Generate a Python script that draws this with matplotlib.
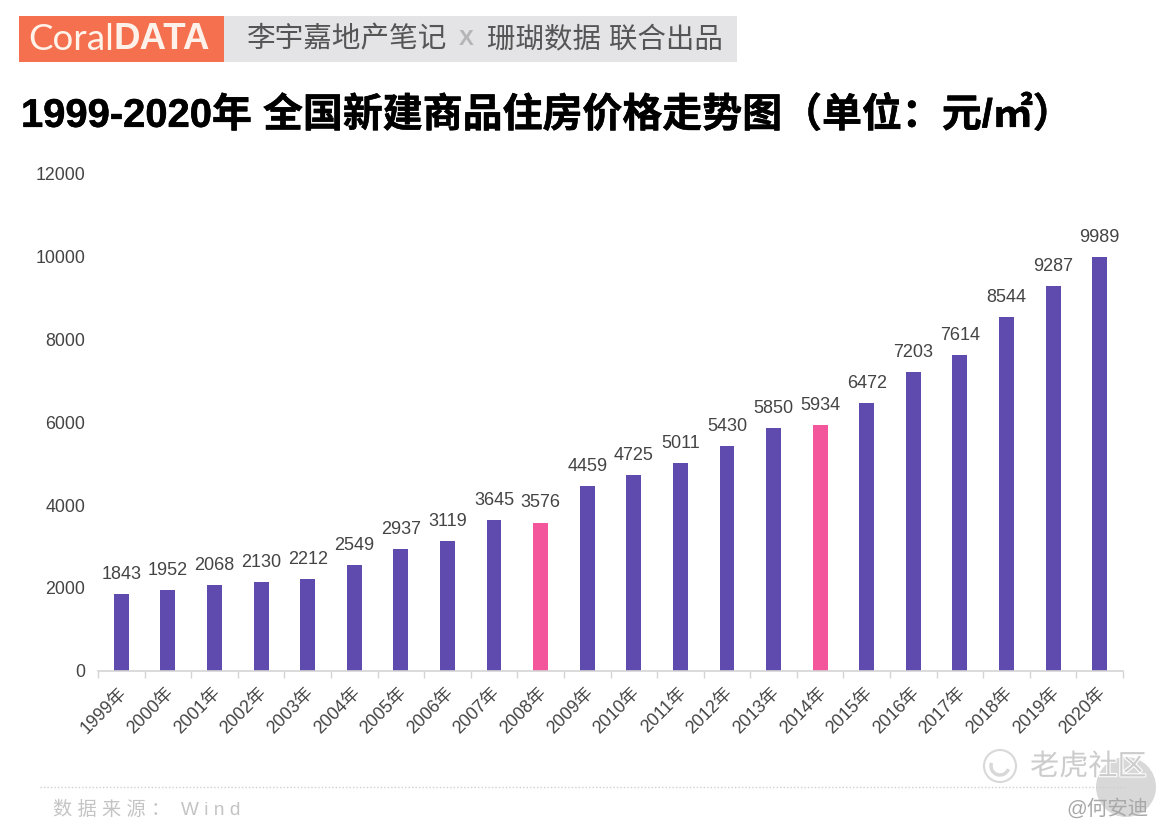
"""1999-2020 national new commercial housing price chart."""
import matplotlib
matplotlib.use("Agg")
import matplotlib.pyplot as plt
import matplotlib.patheffects as pe
from matplotlib.patches import Arc, Circle, Rectangle

plt.rcParams["font.family"] = ["Liberation Sans", "Noto Sans CJK SC", "DejaVu Sans"]

years = [f"{y}年" for y in range(1999, 2021)]
prices = [1843, 1952, 2068, 2130, 2212, 2549, 2937, 3119, 3645, 3576, 4459,
          4725, 5011, 5430, 5850, 5934, 6472, 7203, 7614, 8544, 9287, 9989]
highlight_years = ["2008年", "2014年"]
y_ticks = [0, 2000, 4000, 6000, 8000, 10000, 12000]

W, H = 1170, 834
PURPLE = "#5f4aad"
PINK = "#f4569b"
TEXT = "#444444"

fig = plt.figure(figsize=(W / 100, H / 100), dpi=100, facecolor="white")

# overlay in pixel coords for header, footer and watermark
bg = fig.add_axes([0, 0, 1, 1])
bg.set_xlim(0, W)
bg.set_ylim(H, 0)
bg.axis("off")

bg.add_patch(Rectangle((19, 16), 205, 46, color="#f4704f", lw=0))
bg.add_patch(Rectangle((224, 16), 513, 46, color="#e4e4e6", lw=0))
bg.text(28, 39.5, "Coral", color="#fff3ea", fontsize=26.5, va="center", family="Lato")
bg.text(114, 39.5, "DATA", color="#fdf1ea", fontsize=26.5, va="center", weight="bold")
bg.text(247, 39.5, "李宇嘉地产笔记", color="#555555", fontsize=20.6, va="center", weight="medium")
bg.text(459, 39.5, "X", color="#b5b5b5", fontsize=16, va="center", weight="bold")
bg.text(487, 39.5, "珊瑚数据 联合出品", color="#555555", fontsize=20.5, va="center", weight="medium")

title = bg.text(21, 115, "1999-2020年 全国新建商品住房价格走势图（单位：元/㎡）", color="black",
                fontsize=28.75, va="center", weight="bold")
title.set_path_effects([pe.withStroke(linewidth=0.4, foreground="black")])

bg.plot([40, 1125], [787, 787], color="#cfcfcf", lw=1, ls=(0, (1, 1.5)))
bg.text(53, 810, "数 据 来 源 ：  W i n d", color="#c4c4c4", fontsize=13.8, va="center")

# watermark
bg.add_patch(Circle((1126, 787), 30, color="#cfcfcf", alpha=0.8, lw=0))
bg.add_patch(Circle((1000, 766), 16, fill=False, ec="#d8d8d8", lw=1.5))
bg.add_patch(Arc((1000, 766), 18, 18, theta1=20, theta2=200, ec="#d8d8d8", lw=2.5))
mark = bg.text(1030, 767, "老虎社区", color="#cccccc", fontsize=21, va="center", weight="medium", zorder=5)
mark.set_path_effects([pe.withStroke(linewidth=1.5, foreground="white")])
bg.text(1066, 808, "@何安迪", color="#a8a8a8", fontsize=14.8, va="center", zorder=5)

# plot area: y=0 at pixel 670.5, 12000 at pixel 174, x axis 98..1123
left, right, top, bottom = 98, 1123, 174, 670.5
ax = fig.add_axes([left / W, 1 - bottom / H, (right - left) / W, (bottom - top) / H])
ax.patch.set_alpha(0)

positions = range(len(years))
colors = [PINK if y in highlight_years else PURPLE for y in years]
ax.bar(positions, prices, width=0.32, color=colors)
for i, v in zip(positions, prices):
    ax.annotate(str(v), (i, v), xytext=(0, 8), textcoords="offset points",
                ha="center", va="bottom", fontsize=13, color=TEXT)

ax.set_xlim(-0.5, len(years) - 0.5)
ax.set_ylim(0, 12000)
ax.set_yticks(y_ticks)
ax.tick_params(axis="y", length=0, pad=9, labelsize=12.8, labelcolor=TEXT)

ax.set_xticks([p - 0.5 for p in positions] + [len(years) - 0.5])
ax.set_xticklabels([])
ax.tick_params(axis="x", length=5, color="#d4d4d4", width=1)
for i, label in enumerate(years):
    ax.annotate(label, (i, 0), xytext=(-2, -10), textcoords="offset points", rotation=45,
                rotation_mode="anchor", ha="right", va="top", fontsize=12.8, color=TEXT)

for side in ["top", "left", "right"]:
    ax.spines[side].set_visible(False)
ax.spines["bottom"].set_color("#d4d4d4")
ax.spines["bottom"].set_linewidth(1.2)

fig.savefig("out.png", dpi=100)
